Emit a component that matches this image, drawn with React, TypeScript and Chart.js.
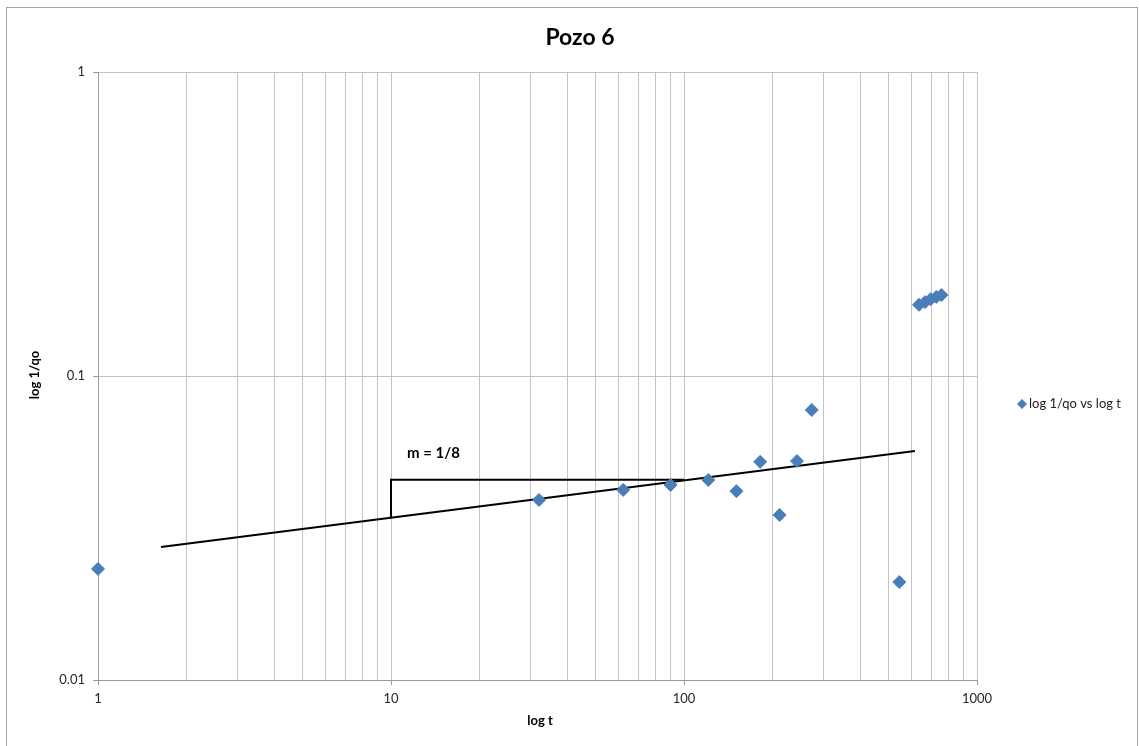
import React, { useEffect, useRef } from 'react';
import { Chart, registerables } from 'chart.js';

Chart.register(...registerables);

const chartTitle = 'Pozo 6';
const xAxisTitle = 'log t';
const yAxisTitle = 'log 1/qo';
const seriesName = 'log 1/qo vs log t';
const slopeLabel = 'm = 1/8';

const timeDays = [1, 32, 62, 90, 121, 151, 182, 212, 243, 273, 543, 634, 665, 695, 726, 756];
const inverseRate = [0.0232, 0.0391, 0.0422, 0.0438, 0.0455, 0.0418, 0.0522, 0.0349, 0.0525, 0.0773, 0.021, 0.1715, 0.175, 0.179, 0.182, 0.1847];

const trendT = [1.64, 614];
const trendQ = [0.0274, 0.0567];

const triangleT = [10, 10, 100];
const triangleQ = [0.0341, 0.0456, 0.0456];

const xTickValues = [1, 2, 3, 4, 5, 6, 7, 8, 9, 10, 20, 30, 40, 50, 60, 70, 80, 90, 100, 200, 300, 400, 500, 600, 700, 800, 900, 1000];
const xMajorTicks = [1, 10, 100, 1000];
const yTickValues = [0.01, 0.1, 1];

const FONT = 'Lato, "Open Sans", "Liberation Sans", sans-serif';
const BLUE = '#4a7ebb';

export default function App() {
  const ref = useRef<HTMLCanvasElement | null>(null);

  useEffect(() => {
    if (!ref.current) return;
    const decor = {
      id: 'decor',
      beforeDraw(chart: any) {
        const c = chart.ctx;
        c.save();
        c.fillStyle = '#ffffff';
        c.fillRect(0, 0, chart.width, chart.height);
        c.restore();
      },
      afterDraw(chart: any) {
        const c = chart.ctx;
        const xs = chart.scales.x;
        c.save();
        c.strokeStyle = '#a6a6a6';
        c.lineWidth = 1;
        c.strokeRect(6.5, 7.5, 1131, 745);
        c.fillStyle = '#000000';
        c.textAlign = 'center';
        c.textBaseline = 'middle';
        c.font = `bold 23px ${FONT}`;
        c.fillText(chartTitle, 580, 38);
        c.font = `bold 13px ${FONT}`;
        c.fillText(xAxisTitle, 540, 721);
        c.save();
        c.translate(35, 375);
        c.rotate(-Math.PI / 2);
        c.fillText(yAxisTitle, 0, 0);
        c.restore();
        c.font = `bold 15px ${FONT}`;
        c.textAlign = 'left';
        c.fillText(slopeLabel, xs.getPixelForValue(10) + 16, 453);
        const lx = 1022;
        const ly = 404;
        c.fillStyle = BLUE;
        c.beginPath();
        c.moveTo(lx, ly - 5);
        c.lineTo(lx + 5, ly);
        c.lineTo(lx, ly + 5);
        c.lineTo(lx - 5, ly);
        c.closePath();
        c.fill();
        c.fillStyle = '#222222';
        c.font = `13px ${FONT}`;
        c.textAlign = 'left';
        c.fillText(seriesName, 1029, ly);
        c.restore();
      },
    };

    const chart = new Chart(ref.current, {
      type: 'scatter',
      data: {
        datasets: [
          {
            label: seriesName,
            data: timeDays.map((t, i) => ({ x: t, y: inverseRate[i] })),
            pointStyle: 'rectRot',
            pointRadius: 6.5,
            backgroundColor: BLUE,
            borderColor: BLUE,
            borderWidth: 1,
            showLine: false,
            clip: false,
          },
          {
            label: 'trend',
            data: trendT.map((t, i) => ({ x: t, y: trendQ[i] })),
            showLine: true,
            borderColor: '#000000',
            borderWidth: 2,
            pointRadius: 0,
            fill: false,
          },
          {
            label: 'triangle',
            data: triangleT.map((t, i) => ({ x: t, y: triangleQ[i] })),
            showLine: true,
            borderColor: '#000000',
            borderWidth: 2,
            pointRadius: 0,
            fill: false,
          },
        ],
      },
      options: {
        responsive: false,
        animation: false,
        layout: { padding: { top: 72, right: 162, bottom: 0, left: 0 } },
        plugins: {
          legend: { display: false },
          title: { display: false },
          tooltip: { enabled: false },
        },
        scales: {
          x: {
            type: 'logarithmic',
            min: 1,
            max: 1000,
            afterBuildTicks: (s: any) => {
              s.ticks = xTickValues.map((v) => ({ value: v, major: xMajorTicks.includes(v) }));
            },
            afterFit: (s: any) => {
              s.height = 66;
            },
            ticks: {
              autoSkip: false,
              maxRotation: 0,
              padding: 6,
              color: '#262626',
              font: { family: FONT, size: 13 },
              callback: (v: any) => (xMajorTicks.includes(Number(v)) ? String(v) : ''),
            },
            grid: {
              color: '#c4c4c4',
              lineWidth: 1,
              tickLength: 5,
              tickColor: (ctx: any) => (ctx.tick && xMajorTicks.includes(ctx.tick.value) ? '#9a9a9a' : 'rgba(0,0,0,0)'),
            },
            border: { color: '#9a9a9a' },
          },
          y: {
            type: 'logarithmic',
            min: 0.01,
            max: 1,
            afterBuildTicks: (s: any) => {
              s.ticks = yTickValues.map((v) => ({ value: v, major: true }));
            },
            afterFit: (s: any) => {
              s.width = 98;
            },
            ticks: {
              autoSkip: false,
              padding: 8,
              color: '#262626',
              font: { family: FONT, size: 13 },
              callback: (v: any) => String(v),
            },
            grid: {
              color: '#c4c4c4',
              lineWidth: 1,
              tickLength: 5,
              tickColor: '#9a9a9a',
            },
            border: { color: '#9a9a9a' },
          },
        },
      },
      plugins: [decor],
    } as any);

    return () => chart.destroy();
  }, []);

  return (
    <div style={{ position: 'absolute', left: 0, top: 0, width: 1139, height: 746 }}>
      <canvas ref={ref} width={1139} height={746} style={{ width: 1139, height: 746, display: 'block' }} />
    </div>
  );
}
